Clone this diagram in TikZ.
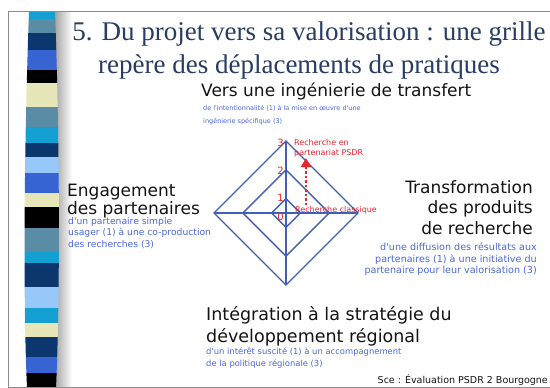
\documentclass[tikz,border=0pt]{standalone}
\usepackage{fontspec}
\setmainfont{Liberation Serif}
\newfontfamily\comicfont{DejaVu Sans}
\usepackage{xcolor}
\usepackage{tikz}
\usetikzlibrary{arrows.meta}

\definecolor{titrebleu}{RGB}{40,60,100}
\definecolor{notebleu}{RGB}{75,105,215}
\definecolor{axebleu}{RGB}{65,95,180}
\definecolor{rougepsdr}{RGB}{235,35,45}
\definecolor{bandecyan}{RGB}{20,160,210}
\definecolor{bandeacier}{RGB}{90,140,165}
\definecolor{bandemarine}{RGB}{12,55,110}
\definecolor{banderoyal}{RGB}{55,100,210}
\definecolor{bandepaille}{RGB}{230,230,185}
\definecolor{bandeciel}{RGB}{150,200,250}

\begin{document}
\begin{tikzpicture}[x=1pt,y=-1pt,
		titre/.style={inner sep=0pt,text=titrebleu,font=\fontsize{27}{33}\selectfont},
		entete/.style={inner sep=0pt,text=black!92},
		note/.style={inner sep=0pt,text=notebleu},
		rouge/.style={inner sep=0pt,text=rougepsdr,font=\comicfont\fontsize{8}{10}\selectfont},
		grille/.style={axebleu,line width=1.4pt}]
			\useasboundingbox (0,0) rectangle (550,388);
			\fill[white] (0,0) rectangle (550,388);
			\shade[left color=black!35,right color=white] (55,11) rectangle (72,387);
			\begin{scope}
				\clip (29,11) .. controls (24,150) and (23,300) .. (27,388) -- (56,388) .. controls (60,300) and (60,150) .. (55,11) -- cycle;
				\foreach \a/\b/\c in {11/19/bandecyan, 19/33/bandeacier, 33/50/bandemarine, 50/70/banderoyal, 70/83/black, 83/107/bandepaille, 107/127/bandeacier, 127/143/bandecyan, 143/157/bandemarine, 157/173/bandeciel, 173/193/banderoyal, 193/207/bandepaille, 207/228/black, 228/252/bandeacier, 252/263/bandecyan, 263/287/bandemarine, 287/308/bandeciel, 308/323/bandecyan, 323/337/bandepaille, 337/357/bandemarine, 357/373/banderoyal, 373/388/black}
					\fill[\c] (20,\a) rectangle (65,\b);
			\end{scope}
			\draw[black!45,line width=0.8pt] (550,11) -- (8,11) -- (8,387) -- (550,387);

			\node[titre,anchor=base] (titre1) at (309,40) {5. Du projet vers sa valorisation : une grille};
			\node[titre,anchor=base] (titre2) at (299,73) {repère des déplacements de pratiques};

			\node[entete,anchor=base west,font=\comicfont\fontsize{17}{20}\selectfont] (transfert) at (201,96) {Vers une ingénierie de transfert};
			\node[note,anchor=north west,align=left,font=\comicfont\fontsize{6.5}{13}\selectfont] (transfertnote) at (203,105) {de l'intentionnalité (1) à la mise en œuvre d'une\\ingénierie spécifique (3)};

			\node[entete,anchor=north west,align=left,font=\comicfont\fontsize{17}{18}\selectfont] (engagement) at (67,184) {Engagement\\des partenaires};
			\node[note,anchor=north west,align=left,font=\comicfont\fontsize{9.2}{11.5}\selectfont] (engagementnote) at (68,217) {d'un partenaire simple\\usager (1) à une co-production\\des recherches (3)};

			\node[entete,anchor=north east,align=right,font=\comicfont\fontsize{17}{20.5}\selectfont] (transformation) at (533,180) {Transformation\\des produits\\de recherche};
			\node[note,anchor=north east,align=right,font=\comicfont\fontsize{9.6}{11.5}\selectfont] (transformationnote) at (537,243) {d'une diffusion des résultats aux\\partenaires (1) à une initiative du\\partenaire pour leur valorisation (3)};

			\node[entete,anchor=north west,align=left,font=\comicfont\fontsize{17.5}{22}\selectfont] (integration) at (206,306) {Intégration à la stratégie du\\développement régional};
			\node[note,anchor=north west,align=left,font=\comicfont\fontsize{8.4}{12}\selectfont] (integrationnote) at (206,348) {d'un intérêt suscité (1) à un accompagnement\\de la politique régionale (3)};

			\node[entete,anchor=base east,font=\comicfont\fontsize{9.5}{11}\selectfont] (source) at (548,383) {Sce : Évaluation PSDR 2 Bourgogne};

			\coordinate (haut) at (286,141);
			\coordinate (bas) at (286,285);
			\coordinate (gauche) at (214,213);
			\coordinate (droite) at (358,213);
			\foreach \r in {14.4,43.2,72}
				\draw[grille] (286,213-\r) -- (286+\r,213) -- (286,213+\r) -- (286-\r,213) -- cycle;
			\draw[grille] (haut) -- (bas);
			\draw[grille] (gauche) -- (droite);

			\foreach \n/\y in {3/143,2/171,1/198,0/217}
				\node[rouge,font=\comicfont\fontsize{10}{10}\selectfont] (niveau\n) at (280.5,\y) {\n};
			\node[rouge,anchor=north west,align=left] (psdr) at (294,139) {Recherche en\\partenariat PSDR};
			\node[rouge,anchor=base west] (classique) at (295,212) {Recherche classique};

			\coordinate (depart) at (306,205);
			\coordinate (arrivee) at (306,158);
			\draw[rougepsdr,line width=2.5pt,dash pattern=on 2.5pt off 2pt,-{Triangle[width=10pt,length=9pt]}] (depart) -- (arrivee);
		\end{tikzpicture}
\end{document}
